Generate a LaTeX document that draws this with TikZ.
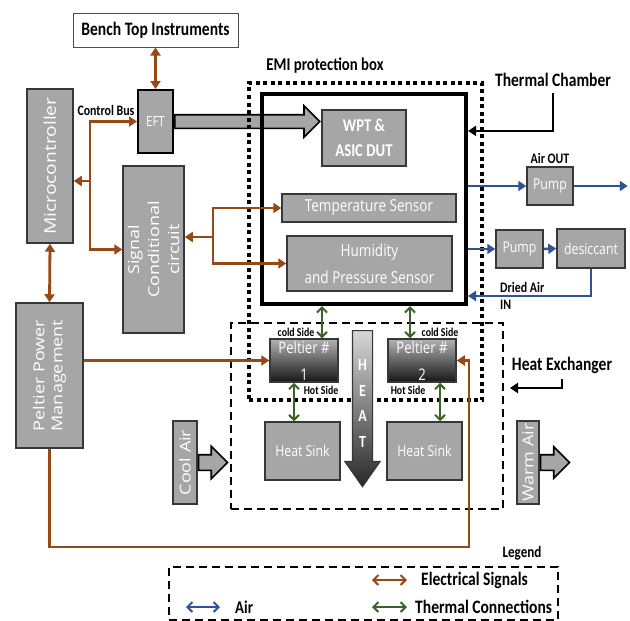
\documentclass[tikz,border=0pt]{standalone}
\usepackage{fontspec}
\newfontfamily\lblfont[FakeStretch=0.82]{Carlito}
\newfontfamily\boxfont[FakeStretch=0.82]{Open Sans}
\newfontfamily\rotfont[FakeStretch=1.2]{Open Sans}
\usepackage{xcolor}
\usetikzlibrary{
    arrows.meta,
    shapes.arrows,
    calc
}
\definecolor{elecbrown}{RGB}{152,72,20}
\definecolor{airblue}{RGB}{46,84,150}
\definecolor{thermgreen}{RGB}{58,100,38}
\definecolor{boxgray}{RGB}{166,166,166}
\definecolor{boxline}{RGB}{55,55,55}
\definecolor{peltop}{RGB}{178,178,178}
\definecolor{pelbot}{RGB}{22,22,22}
\definecolor{heattop}{RGB}{215,215,215}
\definecolor{heatbot}{RGB}{40,40,40}
\tikzset{%
    >={Triangle[length=8pt,width=10pt]},
    % Specifications for style of boxes:
    base/.style = {
        draw=boxline, line width=1.5pt, fill=boxgray,
        text=white, align=center, inner sep=0pt,
        font=\boxfont\fontsize{15}{26}\selectfont
    },
    upbox/.style = {base, rotate=90, font=\rotfont\fontsize{15}{18}\selectfont},
    pelt/.style = {base, top color=peltop, bottom color=pelbot,
        font=\boxfont\fontsize{16}{27}\selectfont},
    fatarrow/.style = {
        single arrow, draw=black, line width=1.6pt, fill=boxgray,
        single arrow head indent=0pt, anchor=tail, inner sep=6pt
    },
    frame/.style = {draw, inner sep=0pt},
    % labels
    lbl/.style = {font=\lblfont\bfseries\fontsize{19}{21}\selectfont, inner sep=0pt},
    smlbl/.style = {font=\lblfont\bfseries\fontsize{14.5}{18}\selectfont, inner sep=0pt},
    tinylbl/.style = {font=\lblfont\bfseries\fontsize{12}{14}\selectfont, inner sep=0pt},
    % connectors
    elec/.style = {draw=elecbrown, line width=2.8pt},
    air/.style = {draw=airblue, line width=2.5pt},
    barbs/.style = {{Straight Barb[length=5pt,width=10pt]}-{Straight Barb[length=5pt,width=10pt]}},
    therm/.style = {draw=thermgreen, line width=2pt, barbs},
    pointer/.style = {draw=black, line width=2.4pt, ->, shorten <=6pt}
}

\begin{document}
\begin{tikzpicture}[x=1pt, y=-1pt]
    \useasboundingbox (0,0) rectangle (630,621);

    % left column
    \node[base, fill=white, draw=gray!60!black, line width=1pt, text=black,
        font=\lblfont\bfseries\fontsize{19}{21}\selectfont,
        minimum width=165pt, minimum height=34pt] (bench) at (155.5,30) {Bench Top Instruments};
    \node[base, draw=black, line width=2pt, minimum width=35pt, minimum height=63pt,
        font=\boxfont\fontsize{14}{16}\selectfont] (eft) at (155.5,121.5) {EFT};
    \node[upbox, minimum width=154pt, minimum height=46pt,
        font=\rotfont\fontsize{16}{18}\selectfont] (mcu) at (50,166) {Microcontroller};
    \node[upbox, minimum width=167pt, minimum height=61pt,
        font=\rotfont\fontsize{15}{20}\selectfont] (sig) at (153.5,249.5) {Signal\\Conditional\\circuit};
    \node[upbox, minimum width=145pt, minimum height=67pt] (ppm) at (49.5,375.5) {Peltier Power\\Management};
    \node[fatarrow, minimum height=145pt, single arrow head extend=9pt] (busarrow) at (eft.east) {};

    % enclosures
    \node[frame, line width=4pt, dash pattern=on 4pt off 3.5pt,
        minimum width=233pt, minimum height=317pt] (emi) at (365.5,241.5) {};
    \node[frame, line width=2.2pt, dash pattern=on 8pt off 5pt,
        minimum width=272pt, minimum height=186pt] (hx) at (367,416) {};
    \node[frame, line width=4.2pt, minimum width=204pt, minimum height=210pt] (chamber) at (364,199) {};

    % inside the chamber
    \node[base, minimum width=84pt, minimum height=56pt,
        font=\lblfont\bfseries\fontsize{18}{25}\selectfont] (wpt) at (364,138) {WPT \&\\ASIC DUT};
    \node[base, minimum width=174pt, minimum height=28pt,
        font=\boxfont\fontsize{16.5}{27}\selectfont] (temp) at (369,208) {Temperature Sensor};
    \node[base, minimum width=165pt, minimum height=55pt,
        font=\boxfont\fontsize{16.5}{27}\selectfont] (hum) at (369.5,263.5) {Humidity\\and Pressure Sensor};

    % air loop
    \node[base, minimum width=46pt, minimum height=38pt] (pumpout) at (550,186) {Pump};
    \node[base, minimum width=47pt, minimum height=38pt] (pumpin) at (519.5,249) {Pump};
    \node[base, minimum width=68pt, minimum height=39pt] (desic) at (591,248.5) {desiccant};

    % heat exchanger
    \node[pelt, minimum width=68pt, minimum height=43pt] (pelt1) at (304,360.5) {Peltier \#\\1};
    \node[pelt, minimum width=68pt, minimum height=43pt] (pelt2) at (422,360.5) {Peltier \#\\2};
    \node[base, minimum width=75pt, minimum height=58pt] (sink1) at (302.5,451) {Heat Sink};
    \node[base, minimum width=75pt, minimum height=58pt] (sink2) at (424.5,451) {Heat Sink};
    \node[fatarrow, shape border rotate=270, draw=boxline, line width=1.2pt,
        top color=heattop, bottom color=heatbot, inner sep=9.5pt,
        single arrow head extend=7.5pt, single arrow tip angle=70,
        minimum height=156pt] (heat) at (362.5,330) {};
    \node[text=white, align=center, inner sep=0pt,
        font=\lblfont\bfseries\fontsize{17}{25.7}\selectfont] (heattxt) at (362.5,403.5) {H\\E\\A\\T};

    \node[upbox, minimum width=83pt, minimum height=24pt] (cool) at (185,462.5) {Cool Air};
    \node[fatarrow, inner sep=7pt, single arrow head extend=8.5pt, minimum height=29pt] (coolarr) at (cool.south) {};
    \node[upbox, minimum width=83pt, minimum height=22pt] (warm) at (528,462.5) {Warm Air};
    \node[fatarrow, inner sep=7pt, single arrow head extend=8pt, minimum height=29pt] (warmarr) at (warm.south) {};

    % labels
    \node[lbl, font=\lblfont\bfseries\fontsize{18}{21}\selectfont] (emilbl) at (325,66) {EMI protection box};
    \node[lbl] (tclbl) at (553,80) {Thermal Chamber};
    \node[smlbl] (buslbl) at (106,110) {Control Bus};
    \node[smlbl] (airoutlbl) at (550,158) {Air OUT};
    \node[smlbl, anchor=west] (driedlbl) at (500,287) {Dried Air};
    \node[smlbl, anchor=west] (inlbl) at (500,305) {IN};
    \node[lbl] (hxlbl) at (562,365) {Heat Exchanger};
    \node[tinylbl] (cold1) at (296,332) {cold Side};
    \node[tinylbl] (cold2) at (440,332) {cold Side};
    \node[tinylbl] (hot1) at (321,390) {Hot Side};
    \node[tinylbl] (hot2) at (408,390) {Hot Side};

    % electrical signals
    \coordinate (bus) at (90,181);
    \coordinate (sens) at (213,237);
    \coordinate (pret) at (469,547);
    \draw[elec, <->] (bench.south) -- (eft.north);
    \draw[elec, ->] (bus) |- (eft.west);
    \draw[elec, ->] (bus) |- (sig.north);
    \draw[elec, ->] (bus) -- (mcu.south |- bus);
    \draw[elec, <->] (mcu.west) -- (ppm.east);
    \draw[elec, ->] (sens) -- (sens -| sig.south);
    \draw[elec, ->] (sens) |- (temp.west);
    \draw[elec, ->] (sens) |- (hum.west);
    \draw[elec, ->] (ppm.south |- pelt1.west) -- (pelt1.west);
    \draw[elec, ->] (ppm.west) |- (pret) |- (pelt2.east);

    % air
    \coordinate (dryin) at (468,296);
    \draw[air, ->] (chamber.east |- pumpout.west) -- (pumpout.west);
    \draw[air, ->] (pumpout.east) -- ++(54,0);
    \draw[air, ->] (chamber.east |- pumpin.west) -- (pumpin.west);
    \draw[air, ->] (pumpin.east) -- (desic.west);
    \draw[air, ->] (desic.south) |- (dryin);

    % thermal
    \path ([xshift=18pt]pelt1.north) coordinate (c1)
          ([xshift=-12pt]pelt2.north) coordinate (c2)
          ([xshift=-10pt]pelt1.south) coordinate (h1)
          ([xshift=18pt]pelt2.south) coordinate (h2);
    \draw[therm] (c1) -- (c1 |- chamber.south);
    \draw[therm] (c2) -- (c2 |- chamber.south);
    \draw[therm] (h1) -- (h1 |- sink1.north);
    \draw[therm] (h2) -- (h2 |- sink2.north);

    % pointers
    \coordinate (hxin) at (510,388);
    \draw[pointer] (tclbl.south) |- ($(chamber.north east)+(0,39)$);
    \draw[pointer] (hxlbl.south) |- (hxin);

    % legend
    \node[frame, line width=2.2pt, dash pattern=on 8pt off 5pt,
        minimum width=389pt, minimum height=53pt] (legendbox) at (363.5,593.5) {};
    \node[lbl, font=\lblfont\bfseries\fontsize{16}{18}\selectfont] (legendlbl) at (522,553) {Legend};
    \node[lbl, anchor=west] (lgelec) at (421,580) {Electrical Signals};
    \node[lbl, anchor=west] (lgtherm) at (415,607) {Thermal Connections};
    \node[lbl, anchor=west, font=\lblfont\bfseries\fontsize{18}{21}\selectfont] (lgair) at (235,607) {Air};
    \draw[draw=elecbrown, line width=2pt, barbs] ([xshift=-14pt]lgelec.west) -- ++(-35,0);
    \draw[draw=thermgreen, line width=2pt, barbs] ([xshift=-8pt]lgtherm.west) -- ++(-35,0);
    \draw[draw=airblue, line width=2pt, barbs] ([xshift=-15pt]lgair.west) -- ++(-34,0);
\end{tikzpicture}
\end{document}
